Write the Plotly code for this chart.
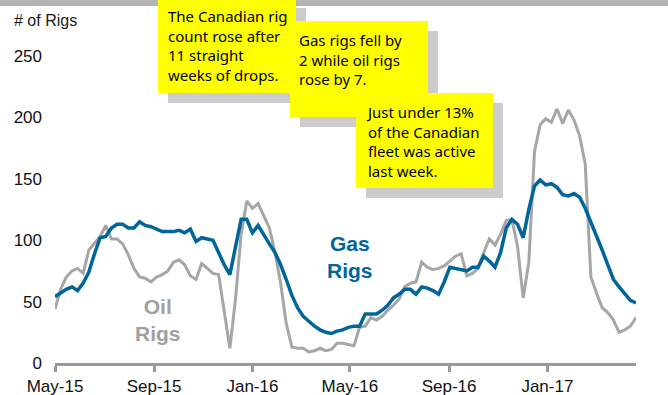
import pandas as pd
import plotly.graph_objects as go

# Weekly Canadian rig counts (Friday reports)
weeks = pd.date_range("2015-05-01", periods=104, freq="7D")

gas_rigs = [
    54, 57, 60, 62, 59, 65, 74, 89, 102, 103,
    110, 113, 113, 110, 110, 115, 112, 111, 109, 107,
    107, 107, 108, 106, 109, 99, 102, 101, 100, 90,
    80, 72, 95, 117, 117, 106, 112, 104, 97, 90,
    80, 68, 55, 45, 38, 34, 30, 27, 25, 24,
    26, 27, 29, 30, 30, 40, 40, 40, 43, 47,
    53, 56, 60, 60, 56, 62, 61, 59, 56, 66,
    78, 77, 76, 75, 78, 78, 87, 83, 78, 90,
    110, 117, 113, 102, 125, 144, 149, 145, 146, 143,
    137, 136, 138, 135, 126, 115, 103, 92, 80, 68,
    62, 56, 51, 49,
]

oil_rigs = [
    44, 60, 70, 75, 77, 73, 92, 98, 103, 112,
    101, 101, 97, 88, 77, 70, 69, 66, 70, 72,
    75, 82, 84, 80, 71, 68, 81, 77, 73, 72,
    42, 12, 52, 105, 132, 126, 130, 120, 110, 90,
    65, 32, 13, 12, 12, 9, 10, 12, 10, 11,
    16, 16, 15, 14, 29, 30, 37, 35, 38, 43,
    47, 52, 62, 65, 66, 82, 78, 76, 77, 79,
    83, 87, 89, 71, 73, 77, 90, 101, 96, 105,
    116, 117, 95, 53, 82, 172, 194, 199, 196, 207,
    195, 206, 198, 185, 162, 70, 57, 45, 41, 35,
    25, 27, 30, 37,
]

tick_dates = ["2015-05-01", "2015-09-01", "2016-01-01",
              "2016-05-01", "2016-09-01", "2017-01-01"]
tick_labels = ["May-15", "Sep-15", "Jan-16", "May-16", "Sep-16", "Jan-17"]
y_ticks = [0, 50, 100, 150, 200, 250]

callouts = [
    "The Canadian rig<br>count rose after<br>11 straight<br>weeks of drops.",
    "Gas rigs fell by<br>2 while oil rigs<br>rose by 7.",
    "Just under 13%<br>of the Canadian<br>fleet was active<br>last week.",
]

GAS = "#00659a"
OIL = "#a6a6a6"
AXIS = "#999999"
FONT = "Liberation Sans, Arial, sans-serif"
NOTE_FONT = "Comic Sans MS, Noto Sans, sans-serif"

W, H = 668, 395
L, R, T, B = 55, 32, 56, 32
PW, PH = W - L - R, H - T - B


def px(x):
    return (x - L) / PW


def py(y):
    return (H - B - y) / PH


fig = go.Figure()
fig.add_trace(go.Scatter(x=weeks, y=oil_rigs, mode="lines",
                         line=dict(color=OIL, width=3), hoverinfo="skip"))
fig.add_trace(go.Scatter(x=weeks, y=gas_rigs, mode="lines",
                         line=dict(color=GAS, width=3.5), hoverinfo="skip"))

shapes = [
    # thin grey band along the top edge
    dict(type="rect", xref="paper", yref="paper", x0=px(0), x1=px(W),
         y0=py(0), y1=py(6), fillcolor="#b3b3b3", line_width=0, layer="above"),
]
# callout boxes: (left, top, right, bottom) in pixels, each with a drop shadow
boxes = [(158, -2, 296, 93), (290, 21, 428, 117), (356, 93, 493, 188)]
for (x0, y0, x1, y1) in boxes:
    shapes.append(dict(type="rect", xref="paper", yref="paper",
                       x0=px(x0 + 10), x1=px(x1 + 10), y0=py(y0 + 10), y1=py(y1 + 10),
                       fillcolor="#cccccc", line_width=0, layer="above"))
    shapes.append(dict(type="rect", xref="paper", yref="paper",
                       x0=px(x0), x1=px(x1), y0=py(y0), y1=py(y1),
                       fillcolor="#ffff00", line_width=0, layer="above"))

annotations = [
    dict(text="# of Rigs", x=px(12), y=py(21), xref="paper", yref="paper",
         xanchor="left", yanchor="middle", showarrow=False,
         font=dict(family=FONT, size=16, color="#1a1a1a")),
    dict(text="<b>Oil<br>Rigs</b>", x=px(158), y=py(320), xref="paper", yref="paper",
         xanchor="center", yanchor="middle", showarrow=False,
         font=dict(family=FONT, size=21, color="#a0a0a0")),
    dict(text="<b>Gas<br>Rigs</b>", x=px(350), y=py(257), xref="paper", yref="paper",
         xanchor="center", yanchor="middle", showarrow=False,
         font=dict(family=FONT, size=21, color=GAS)),
]
text_pos = [(166, 4), (297, 28), (364, 100)]
for (tx, ty), txt in zip(text_pos, callouts):
    annotations.append(dict(text=txt, x=px(tx), y=py(ty), xref="paper", yref="paper",
                            xanchor="left", yanchor="top", align="left", showarrow=False,
                            font=dict(family=NOTE_FONT, size=15, color="#000000")))

fig.update_layout(
    width=W, height=H,
    margin=dict(l=L, r=R, t=T, b=B),
    paper_bgcolor="white", plot_bgcolor="white",
    showlegend=False,
    shapes=shapes,
    annotations=annotations,
    xaxis=dict(type="date", range=["2015-05-01", "2017-04-21"],
               tickvals=tick_dates, ticktext=tick_labels,
               showgrid=False, zeroline=False, automargin=False,
               showline=True, linecolor=AXIS, linewidth=3,
               ticks="outside", ticklen=6, tickwidth=3, tickcolor=AXIS,
               tickfont=dict(family=FONT, size=17, color="#111111")),
    yaxis=dict(range=[0, 250], tickvals=y_ticks, automargin=False,
               showgrid=False, zeroline=False, showline=False, ticks="",
               ticklabelstandoff=12,
               tickfont=dict(family=FONT, size=17, color="#111111")),
)

fig.write_html("out.html")
